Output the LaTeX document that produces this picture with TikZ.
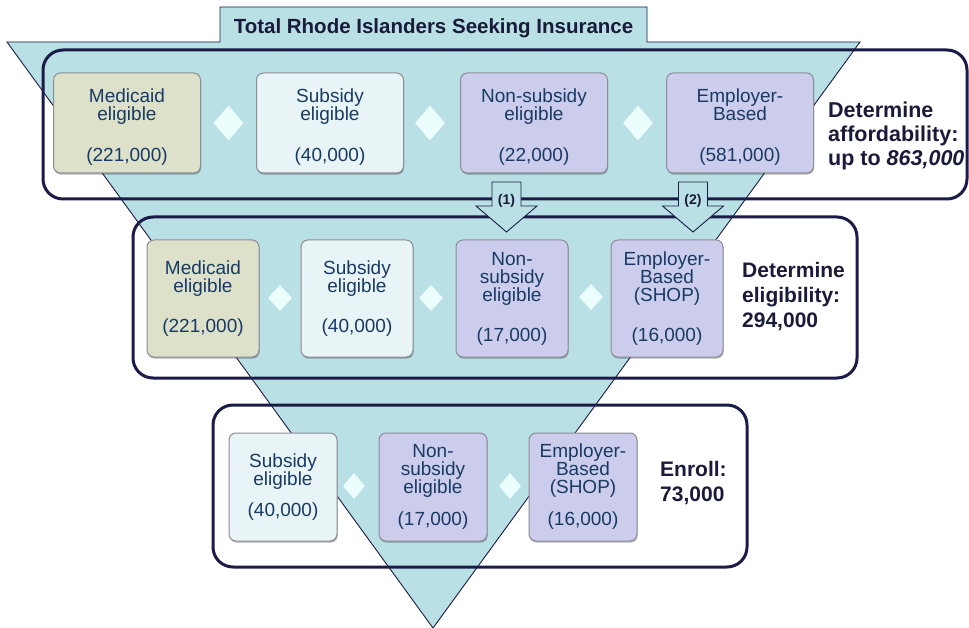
\documentclass[tikz,border=0pt]{standalone}
\usepackage{fontspec}
\setmainfont{Liberation Sans}
\usetikzlibrary{shapes.geometric,shadows}
\definecolor{navy}{RGB}{27,27,72}
\definecolor{funnelfill}{RGB}{185,224,228}
\definecolor{medfill}{RGB}{221,225,202}
\definecolor{subfill}{RGB}{232,244,245}
\definecolor{lavfill}{RGB}{204,204,236}
\definecolor{gemfill}{RGB}{235,253,253}
\definecolor{boxtext}{RGB}{24,58,100}
\definecolor{labtext}{RGB}{26,26,58}
\definecolor{boxgray}{RGB}{140,140,152}

\begin{document}
\begin{tikzpicture}[x=1pt, y=-1pt,
  funnel/.style={draw=navy, line width=0.9pt, fill=funnelfill},
  stage/.style={draw=navy, line width=3pt, rounded corners=20pt},
  box/.style={draw=boxgray, line width=1pt, rounded corners=7pt, align=center,
              inner sep=0pt, text=boxtext, font=\fontsize{19}{18}\selectfont,
              drop shadow={shadow xshift=0.6pt, shadow yshift=-1.6pt, fill=black, opacity=0.3}},
  r1/.style={box, minimum width=147pt, minimum height=100pt, text height=80pt},
  r2/.style={box, minimum width=112pt, minimum height=117pt},
  r3/.style={box, minimum width=108pt, minimum height=108pt},
  gem/.style={diamond, fill=gemfill, inner sep=0pt},
  push/.style={draw=navy, line width=0.9pt, fill=funnelfill},
  stagelab/.style={anchor=north west, align=left, inner sep=0pt, text=labtext,
                   font=\bfseries\fontsize{21}{25}\selectfont},
  hd/.style={font=\bfseries\fontsize{20.5}{24}\selectfont, text=labtext, anchor=base}]
\useasboundingbox (0,0) rectangle (969,628);
\fill[white] (0,0) rectangle (969,628);
% funnel with title tab
\draw[funnel] (7,42) -- (220,42) -- (220,7) -- (647,7) -- (647,42) -- (860,42) -- (433,628) -- cycle;
\node[hd] (title) at (433.5,34) {Total Rhode Islanders Seeking Insurance};
% stage frames
\draw[stage] (43,50) rectangle (967,199);
\draw[stage] (133,217) rectangle (857,378);
\draw[stage] (213,405) rectangle (747,567);
% (1) affordability
\node[r1, fill=medfill] (med1) at (127,123) {Medicaid\\eligible\\[23pt](221,000)};
\node[r1, fill=subfill] (sub1) at (330,123) {Subsidy\\eligible\\[23pt](40,000)};
\node[r1, fill=lavfill] (non1) at (534,123) {Non-subsidy\\eligible\\[23pt](22,000)};
\node[r1, fill=lavfill] (emp1) at (740,123) {Employer-\\Based\\[23pt](581,000)};
\node[stagelab, font=\bfseries\fontsize{21.5}{24}\selectfont] (afford) at (828,102) {Determine\\affordability:\\up to \textit{863,000}};
% (2) eligibility
\node[r2, fill=medfill] (med2) at (203,298.5) {Medicaid\\eligible\\[22pt](221,000)};
\node[r2, fill=subfill] (sub2) at (357,298.5) {Subsidy\\eligible\\[22pt](40,000)};
\node[r2, fill=lavfill] (non2) at (512,298.5) {Non-\\subsidy\\eligible\\[22pt](17,000)};
\node[r2, fill=lavfill] (emp2) at (667,298.5) {Employer-\\Based\\(SHOP)\\[22pt](16,000)};
\node[stagelab] (elig) at (742,262) {Determine\\eligibility:\\294,000};
% (3) enrollment
\node[r3, fill=subfill] (sub3) at (283,487) {Subsidy\\eligible\\[13pt](40,000)};
\node[r3, fill=lavfill] (non3) at (433,487) {Non-\\subsidy\\eligible\\[14pt](17,000)};
\node[r3, fill=lavfill] (emp3) at (583,487) {Employer-\\Based\\(SHOP)\\[14pt](16,000)};
\node[stagelab] (enroll) at (660,461) {Enroll:\\73,000};
% separators
\foreach \dx/\dy/\dw/\dh [count=\i] in {228.5/123/30/35, 430/123/30/35, 638/123/30/35,
    280/298/24/26, 431/298/24/26, 591/297/24/26, 354/486/22/26, 510/486/22/26}
  \node[gem, minimum width=\dw pt, minimum height=\dh pt] (gem\i) at (\dx,\dy) {};
% hand-over arrows
\foreach \ax [count=\i] in {506.5, 693} {
  \draw[push] (\ax-14.5,182) -- (\ax+14.5,182) -- (\ax+14.5,206) -- (\ax+30.5,206)
    -- (\ax,232) -- (\ax-30.5,206) -- (\ax-14.5,206) -- cycle;
  \node[font=\bfseries\fontsize{14}{14}\selectfont, text=labtext] (pass\i) at (\ax,201) {(\i)};
}
\end{tikzpicture}
\end{document}
